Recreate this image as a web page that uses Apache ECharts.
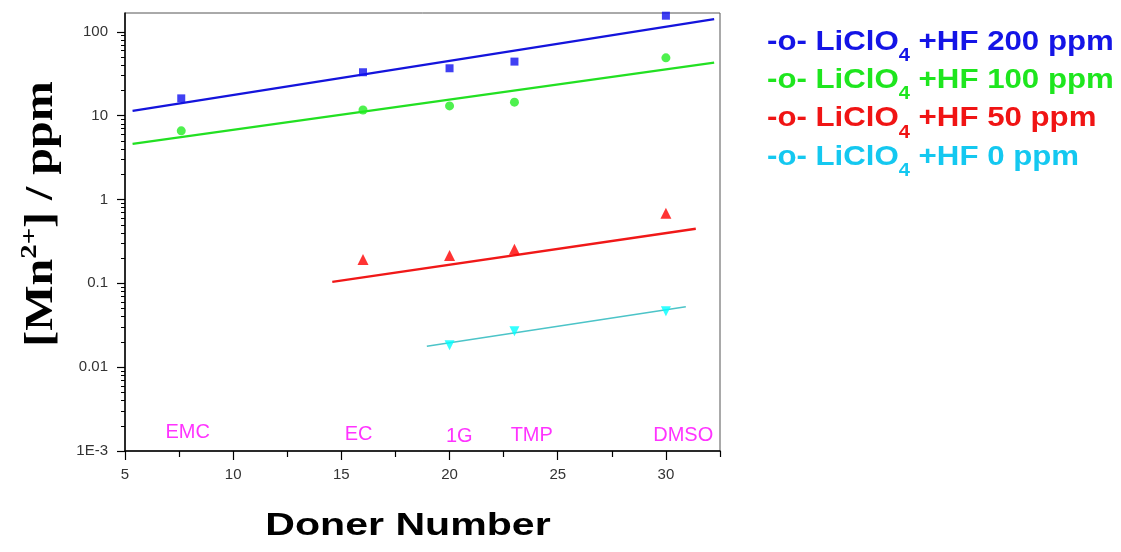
<!DOCTYPE html>
<html><head><meta charset="utf-8">
<script src="https://cdn.jsdelivr.net/npm/echarts@6/dist/echarts.min.js"></script>
<style>html,body{margin:0;padding:0;background:#fff}#c{width:1121px;height:552px}</style>
</head><body><div id="c"></div>
<script>
// ---- data ----
const donorNumbers = [7.6, 16, 20, 23, 30];
const mnHF200 = [16.1, 33, 36.8, 44.2, 156];
const mnHF100 = [6.6, 11.7, 13.1, 14.5, 49];
const donor50 = [16, 20, 23, 30];
const mnHF50 = [0.193, 0.215, 0.256, 0.684];
const donor0 = [20, 23, 30];
const mnHF0 = [0.0183, 0.0269, 0.0466];

// fitted trend lines (end points)
const fit200X = [5.35, 32.23], fit200Y = [11.4, 142];
const fit100X = [5.35, 32.23], fit100Y = [4.6, 43];
const fit50X = [14.58, 31.38], fit50Y = [0.104, 0.448];
const fit0X = [18.95, 30.92], fit0Y = [0.0178, 0.0525];

// solvent annotations
const solventNames = ['EMC', 'EC', '1G', 'TMP', 'DMSO'];
const solventLabelX = [7.9, 15.8, 20.45, 23.8, 30.8];
const solventLabelY = [0.00168, 0.00158, 0.00148, 0.00155, 0.00155];

// axes
const xTicks = [5, 10, 15, 20, 25, 30];
const xMinorTicks = [7.5, 12.5, 17.5, 22.5, 27.5, 32.5];
const yTicks = [0.001, 0.01, 0.1, 1, 10, 100];
const yTickLabels = ['1E-3', '0.01', '0.1', '1', '10', '100'];
const yMinorTicks = [];
[0.001, 0.01, 0.1, 1, 10, 100].forEach(d => { for (let k = 2; k <= 9; k++) { const v = +(d * k).toPrecision(3); if (v < 168) yMinorTicks.push(v); } });

const legendNames = ['200', '100', '50', '0'];
const seriesNames = ['LiClO4 +HF 200 ppm', 'LiClO4 +HF 100 ppm', 'LiClO4 +HF 50 ppm', 'LiClO4 +HF 0 ppm'];

const pairs = (xs, ys) => xs.map((x, i) => [x, ys[i]]);

const chart = echarts.init(document.getElementById('c'), null, {renderer: 'canvas'});

const legendColors = ['#1414e6', '#1ee61e', '#f01414', '#14c8f0'];
const legendGraphics = legendNames.map((n, i) => ({
  type: 'text', x: 767, y: 28 + i * 38.3,
  scaleX: 1.115, scaleY: 1,
  style: {
    text: '{a|-o- LiClO}{s|4}{a| +HF ' + n + ' ppm}',
    fill: legendColors[i],
    verticalAlign: 'top', align: 'left',
    rich: {
      a: {fontFamily: 'Liberation Sans, Arial', fontWeight: 'bold', fontSize: 28, lineHeight: 30, verticalAlign: 'top', fill: legendColors[i]},
      s: {fontFamily: 'Liberation Sans, Arial', fontWeight: 'bold', fontSize: 18, lineHeight: 18, padding: [19, 0, 0, 0], verticalAlign: 'top', fill: legendColors[i]}
    }
  }
}));

const option = {
  backgroundColor: '#fff',
  animation: false,
  grid: {left: 125, right: 401, top: 13, bottom: 101, show: true, borderColor: '#555', borderWidth: 1, backgroundColor: 'transparent'},
  xAxis: [{
    type: 'value', min: 5, max: 32.5,
    axisLine: {show: true, onZero: false, lineStyle: {color: '#000', width: 1.5}},
    axisTick: {show: true, length: 9, customValues: xTicks, lineStyle: {color: '#000', width: 1.2}},
    axisLabel: {customValues: xTicks, margin: 16, fontSize: 15, color: '#333', fontFamily: 'Liberation Sans, Arial'},
    splitLine: {show: false}
  }, {
    type: 'value', min: 5, max: 32.5, position: 'bottom',
    axisLine: {show: false},
    axisTick: {show: true, length: 6, customValues: xMinorTicks, lineStyle: {color: '#000', width: 1.2}},
    axisLabel: {show: false},
    splitLine: {show: false}
  }],
  yAxis: [{
    type: 'log', logBase: 10, min: 0.001, max: 168,
    axisLine: {show: true, onZero: false, lineStyle: {color: '#000', width: 1.5}},
    axisTick: {show: true, length: 8, customValues: yTicks, lineStyle: {color: '#000', width: 1.2}},
    axisLabel: {
      customValues: yTicks, margin: 17, fontSize: 15, color: '#333', fontFamily: 'Liberation Sans, Arial',
      formatter: v => { let best = 0; yTicks.forEach((t, i) => { if (Math.abs(Math.log10(t) - Math.log10(v)) < Math.abs(Math.log10(yTicks[best]) - Math.log10(v))) best = i; }); return yTickLabels[best]; }
    },
    splitLine: {show: false}
  }, {
    type: 'log', logBase: 10, min: 0.001, max: 168, position: 'left',
    axisLine: {show: false},
    axisTick: {show: true, length: 4, customValues: yMinorTicks, lineStyle: {color: '#000', width: 1}},
    axisLabel: {show: false},
    splitLine: {show: false}
  }],
  graphic: [
    {
      type: 'text', x: 40, y: 214, rotation: Math.PI / 2, scaleX: 1.2, scaleY: 1,
      style: {
        text: '{a|[Mn}{p|2+}{a|] / ppm}', align: 'center', verticalAlign: 'middle', fill: '#000',
        rich: {
          a: {fontFamily: 'Liberation Serif, Times New Roman', fontWeight: 'bold', fontSize: 40, lineHeight: 44, verticalAlign: 'bottom', fill: '#000'},
          p: {fontFamily: 'Liberation Serif, Times New Roman', fontWeight: 'bold', fontSize: 24, lineHeight: 24, padding: [0, 0, 20, 0], verticalAlign: 'bottom', fill: '#000'}
        }
      }
    },
    {
      type: 'text', x: 408, y: 526, scaleX: 1.37, scaleY: 1.05,
      style: {text: 'Doner Number', align: 'center', verticalAlign: 'middle', fill: '#000', fontFamily: 'Liberation Sans, Arial', fontWeight: 'bold', fontSize: 30}
    }
  ].concat(legendGraphics),
  series: [
    {name: seriesNames[0] + ' fit', type: 'line', data: pairs(fit200X, fit200Y), symbol: 'none', lineStyle: {color: '#1414dc', width: 2.3}, z: 2},
    {name: seriesNames[1] + ' fit', type: 'line', data: pairs(fit100X, fit100Y), symbol: 'none', lineStyle: {color: '#22e022', width: 2.3}, z: 2},
    {name: seriesNames[2] + ' fit', type: 'line', data: pairs(fit50X, fit50Y), symbol: 'none', lineStyle: {color: '#f01818', width: 2.3}, z: 2},
    {name: seriesNames[3] + ' fit', type: 'line', data: pairs(fit0X, fit0Y), symbol: 'none', lineStyle: {color: '#4cc4c8', width: 1.5}, z: 2},
    {name: seriesNames[0], type: 'scatter', data: pairs(donorNumbers, mnHF200), symbol: 'rect', symbolSize: 8, itemStyle: {color: '#1010f0'}, z: 3},
    {name: seriesNames[1], type: 'scatter', data: pairs(donorNumbers, mnHF100), symbol: 'circle', symbolSize: 9, itemStyle: {color: '#22ee22'}, z: 3},
    {name: seriesNames[2], type: 'scatter', data: pairs(donor50, mnHF50), symbol: 'triangle', symbolSize: 11, itemStyle: {color: '#ff0000'}, z: 3},
    {name: seriesNames[3], type: 'scatter', data: pairs(donor0, mnHF0), symbol: 'triangle', symbolRotate: 180, symbolSize: 10, itemStyle: {color: '#00ffff'}, z: 3},
    {
      name: 'solvents', type: 'scatter', symbolSize: 0, z: 4,
      data: solventNames.map((n, i) => ({value: [solventLabelX[i], solventLabelY[i]], name: n})),
      label: {show: true, position: 'inside', formatter: p => p.name, color: '#ff00ff', fontSize: 20, fontFamily: 'Liberation Sans, Arial'},
      silent: true
    }
  ]
};
chart.setOption(option);
</script>
</body></html>
